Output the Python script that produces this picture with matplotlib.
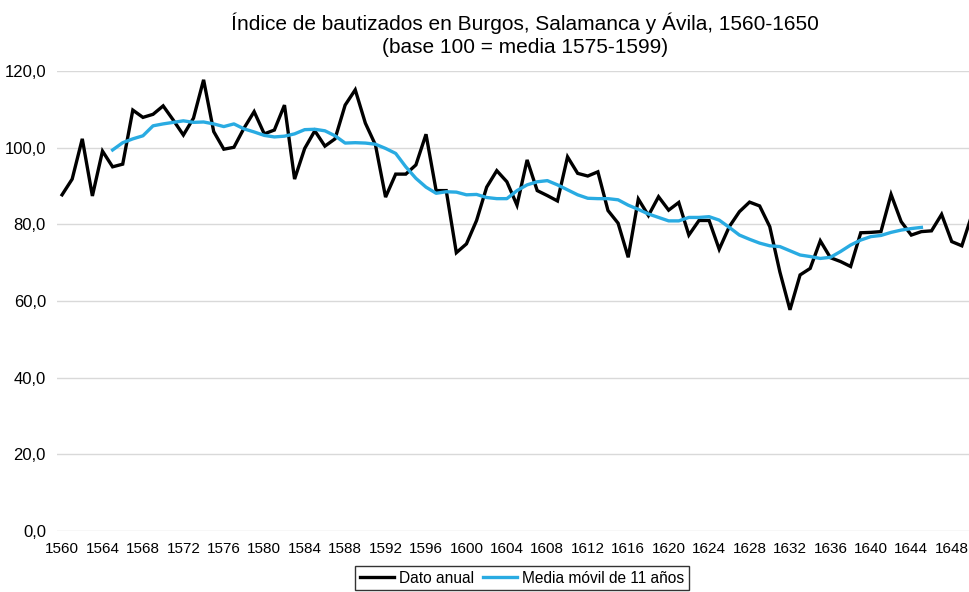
import matplotlib
matplotlib.use("Agg")
import matplotlib.pyplot as plt
from matplotlib.ticker import FixedLocator, FuncFormatter

plt.rcParams['font.family'] = ['Liberation Sans', 'DejaVu Sans']

years = list(range(1560, 1651))
annual = [87.7, 91.8, 102.3, 87.4, 99.1, 95.0, 95.7, 109.8, 107.9, 108.7,
          110.9, 107.2, 103.3, 107.7, 117.7, 104.2, 99.6, 100.1, 105.1, 109.4,
          103.6, 104.6, 111.1, 91.8, 99.8, 104.4, 100.4, 102.3, 111.1, 115.1,
          106.4, 100.7, 87.1, 93.1, 93.1, 95.5, 103.5, 88.8, 88.8, 72.6,
          74.9, 81.0, 89.7, 94.0, 91.1, 85.0, 96.8, 88.8, 87.5, 86.1,
          97.6, 93.3, 92.6, 93.7, 83.6, 80.3, 71.4, 86.6, 82.3, 87.2,
          83.7, 85.7, 77.2, 81.0, 81.0, 73.5, 79.4, 83.3, 85.8, 84.8,
          79.4, 67.6, 57.7, 66.8, 68.5, 75.7, 71.3, 70.3, 69.0, 77.8,
          77.9, 78.1, 87.8, 80.7, 77.2, 78.1, 78.3, 82.6, 75.5, 74.4,
          82.5]
ma_years = list(range(1565, 1646))
moving_avg = [99.4, 101.3, 102.3, 103.1, 105.7, 106.2, 106.6, 107.0, 106.6, 106.7,
              106.2, 105.5, 106.2, 104.9, 104.1, 103.2, 102.8, 103.0, 103.6, 104.7,
              104.8, 104.4, 103.1, 101.2, 101.3, 101.2, 100.9, 99.8, 98.5, 95.0,
              92.0, 89.7, 88.1, 88.5, 88.4, 87.7, 87.8, 87.0, 86.7, 86.7,
              88.8, 90.3, 91.1, 91.4, 90.3, 89.0, 87.7, 86.8, 86.7, 86.7,
              86.4, 85.0, 83.9, 82.7, 81.8, 80.9, 80.9, 81.8, 81.8, 82.0,
              81.1, 79.2, 77.2, 76.1, 75.1, 74.4, 74.2, 73.1, 72.0, 71.6,
              71.1, 71.4, 72.9, 74.6, 75.9, 76.8, 77.1, 77.9, 78.5, 78.9,
              79.2]
xticks = list(range(1560, 1650, 4))
yticks = [0, 20, 40, 60, 80, 100, 120]

title = "Índice de bautizados en Burgos, Salamanca y Ávila, 1560-1650\n(base 100 = media 1575-1599)"

W, H = 969, 592
fig = plt.figure(figsize=(W / 100, H / 100), dpi=100)
left_px, right_px = 57, 977
top_px, bottom_px = 71, 531
ax = fig.add_axes([left_px / W, 1 - bottom_px / H,
                   (right_px - left_px) / W, (bottom_px - top_px) / H])

ax.plot(years, annual, color='black', lw=2.4, label='Dato anual',
        solid_joinstyle='miter', zorder=3)
ax.plot(ma_years, moving_avg, color='#29ABE2', lw=2.4,
        label='Media móvil de 11 años', zorder=4)

ax.set_xlim(1559.5, 1650.5)
ax.set_ylim(0, 120)
ax.yaxis.set_major_locator(FixedLocator(yticks))
ax.yaxis.set_major_formatter(FuncFormatter(lambda v, p: f"{v:.1f}".replace('.', ',')))
ax.xaxis.set_major_locator(FixedLocator(xticks))
ax.xaxis.set_major_formatter(FuncFormatter(lambda v, p: f"{int(round(v))}"))
ax.grid(axis='y', color='#D9D9D9', lw=1)
ax.set_axisbelow(True)
for s in ax.spines.values():
    s.set_visible(False)
ax.tick_params(axis='both', length=0, colors='black')
ax.tick_params(axis='y', pad=8, labelsize=12)
ax.tick_params(axis='x', pad=8, labelsize=11)

fig.text(525 / W, 1 - 13 / H, title, ha='center', va='top', fontsize=15,
         linespacing=1.25)

leg = fig.legend(loc='lower center', bbox_to_anchor=(522 / W, 0.0), ncol=2,
                 frameon=True, fancybox=False, fontsize=11.2, handlelength=2.2,
                 handletextpad=0.3, columnspacing=0.6, borderpad=0.3,
                 borderaxespad=0.1)
leg.get_frame().set_edgecolor('black')
leg.get_frame().set_linewidth(1.0)

fig.savefig('out.png', dpi=100)
